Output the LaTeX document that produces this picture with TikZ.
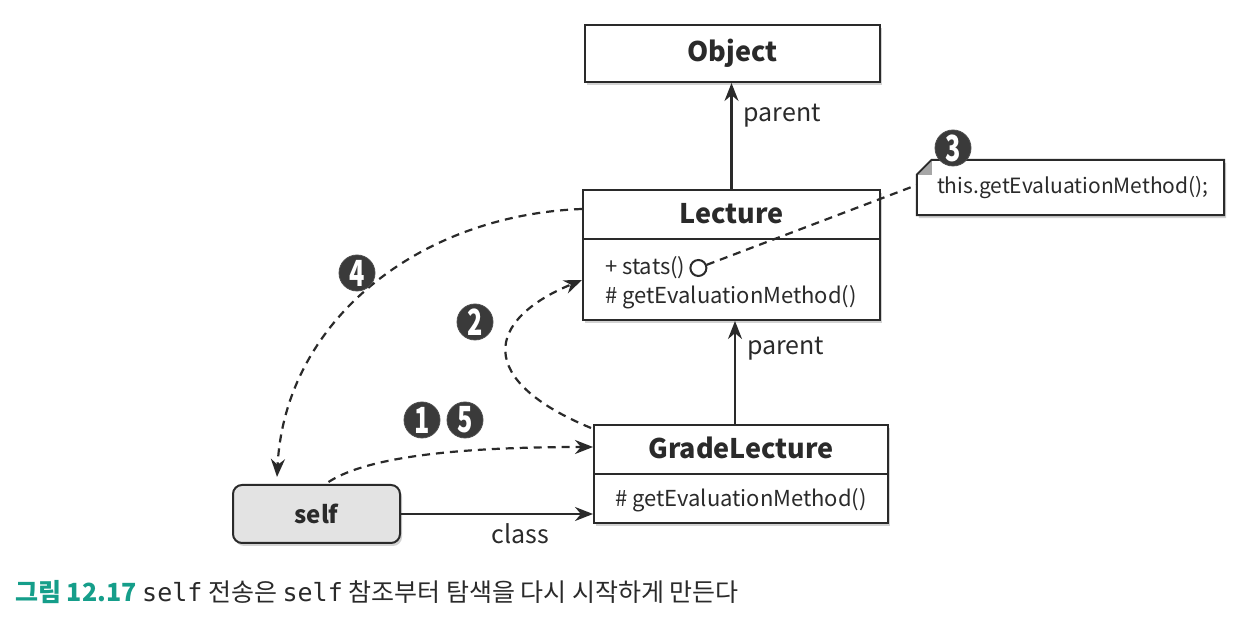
\documentclass[tikz,border=0pt]{standalone}
\usepackage{fontspec}
\setmainfont{Noto Sans CJK KR}
\newfontfamily\monof{DejaVu Sans Mono}
\usetikzlibrary{arrows.meta,shadows,calc}
\definecolor{teal1}{HTML}{159E8A}
\definecolor{markc}{HTML}{3A3A3A}
\definecolor{selfgray}{HTML}{E3E3E3}
\definecolor{ink}{HTML}{2A2A2A}
\begin{document}
\begin{tikzpicture}[x=1pt,y=1pt,
  box/.style={draw=ink, line width=2pt, fill=white, drop shadow={shadow xshift=2pt,shadow yshift=-3pt,opacity=0.35}, inner sep=0},
  ttl/.style={font=\fontsize{27}{30}\selectfont\bfseries, text=ink},
  mem/.style={font=\fontsize{22}{26}\selectfont, text=ink, inner sep=0},
  lbl/.style={font=\fontsize{25}{28}\selectfont, text=ink, inner sep=0},
  arr/.style={draw=ink, line width=2.2pt, -{Stealth[length=18pt,width=14pt]}},
  darr/.style={draw=ink, line width=2.2pt, dash pattern=on 8pt off 6pt, -{Stealth[length=18pt,width=14pt]}},
  dline/.style={draw=ink, line width=2.2pt, dash pattern=on 8pt off 6pt},
  marker/.style={circle, fill=markc, draw=black!70, line width=0.8pt, minimum size=36pt, inner sep=0, text=white, font=\fontsize{36}{36}\selectfont\bfseries},
]
\useasboundingbox (0,0) rectangle (1249,620);
\fill[white] (0,0) rectangle (1249,620);

% Object
\node[box, ttl, minimum width=295, minimum height=57] (obj) at (732.5,566.5) {Object};

% Lecture
\node[box, minimum width=297, minimum height=130] (lec) at (731.5,365) {};
\draw[ink, line width=2pt] ($(lec.north west)+(0,-50)$) -- ($(lec.north east)+(0,-50)$);
\node[ttl] (lect) at ($(lec.north)+(0,-25)$) {Lecture};
\node[mem, anchor=west] (lecm1) at (605,352) {+ stats()};
\node[circle, draw=ink, line width=2pt, minimum size=16pt, inner sep=0] (stc) at ($(lecm1.east)+(13,0)$) {};
\node[mem, anchor=west] (lecm2) at (605,323) {\# getEvaluationMethod()};

% GradeLecture
\node[box, minimum width=294, minimum height=98] (gl) at (741,146) {};
\draw[ink, line width=2pt] (gl.west) -- (gl.east);
\node[ttl] (glt) at ($(gl.north)+(0,-24)$) {GradeLecture};
\node[mem] (glm) at ($(gl.south)+(0,24)$) {\# getEvaluationMethod()};

% self
\node[box, rounded corners=9pt, fill=selfgray, minimum width=167, minimum height=58,
  font=\fontsize{24}{28}\selectfont\bfseries, text=ink] (self) at (316.5,106) {self};

% note
\node[inner sep=0, minimum width=307, minimum height=55] (note) at (1070.5,432.5) {};
\filldraw[draw=ink, line width=2pt, fill=white, drop shadow={shadow xshift=2pt,shadow yshift=-3pt,opacity=0.35}]
  ($(note.north west)+(15,0)$) -- (note.north east) -- (note.south east) -- (note.south west) -- ($(note.north west)+(0,-15)$) -- cycle;
\fill[gray!70] ($(note.north west)+(0,-15)$) -- ($(note.north west)+(15,0)$) -- ($(note.north west)+(15,-15)$) -- cycle;
\draw[ink, line width=1.4pt] ($(note.north west)+(0,-15)$) -- ($(note.north west)+(15,0)$);
\node[mem, anchor=west, font=\fontsize{21}{24}\selectfont] (notet) at ($(note.west)+(20,0)$) {this.getEvaluationMethod();};
\coordinate (notein) at ($(note.west)+(0,2.5)$);

% connectors
\draw[arr] (lec.north) -- (lec.north |- obj.south) node[lbl, pos=0.69, anchor=west, xshift=11pt] (p1) {parent};
\coordinate (glp) at ($(gl.north)+(-6,0)$);
\draw[arr] (glp) -- (glp |- lec.south) node[lbl, pos=0.73, anchor=west, xshift=11pt] (p2) {parent};
\draw[arr] (self.east) -- (self.east -| gl.west) node[lbl, pos=0.62, anchor=north, yshift=-9pt] (cls) {class};

\draw[dline] (stc) -- (notein);
\draw[darr] ($(self.north)+(12,2)$) .. controls (370,165) and (470,173) .. ($(gl.west)+(0,27)$);
\draw[darr] ($(gl.north west)+(-2,-4)$) .. controls (475,240) and (485,300) .. ($(lec.west)+(0,-25)$);
\draw[darr] ($(lec.north west)+(0,-20)$) .. controls (420,405) and (285,300) .. ($(self.north west)+(45,7)$);

% markers
\node[marker] (m4) at (357,347) {\scalebox{0.7}[1]{4}};
\node[marker] (m2) at (475,298) {\scalebox{0.7}[1]{2}};
\node[marker] (m1) at (422,200) {\scalebox{0.7}[1]{1}};
\node[marker] (m5) at (465,200) {\scalebox{0.7}[1]{5}};
\node[marker] (m3) at (953,472) {\scalebox{0.7}[1]{3}};

% caption
\node[anchor=west, inner sep=0, font=\fontsize{25}{28}\selectfont, text=ink] (cap) at (15,28)
  {{\bfseries\color{teal1}그림 12.17}\ {\monof self} 전송은 {\monof self} 참조부터 탐색을 다시 시작하게 만든다};
\end{tikzpicture}
\end{document}
